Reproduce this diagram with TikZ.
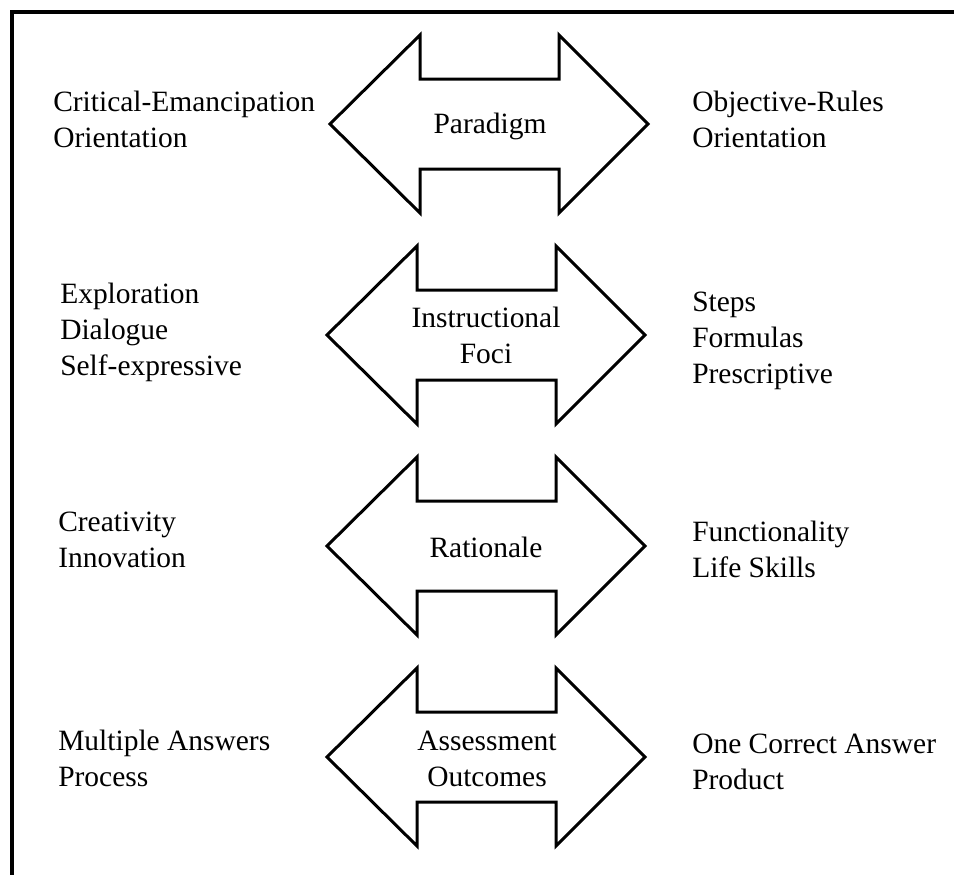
\documentclass[tikz,border=0pt]{standalone}
\usepackage{fontspec}
\setmainfont{Liberation Serif}
\begin{document}
\begin{tikzpicture}[x=0.75pt,y=-0.75pt,
  txt/.style={inner sep=0pt, align=left, anchor=base west, font=\fontsize{22.1}{27}\selectfont},
  ctxt/.style={inner sep=0pt, align=center, anchor=base, font=\fontsize{22.1}{27}\selectfont},
  dbl/.style={draw, line width=2.25pt, line join=miter},
  frameline/.style={line width=2.6pt},
  dblarrow/.pic={\draw[dbl] (-159,0) -- (-69,-89) -- (-69,-45) -- (70,-45) -- (70,-89) -- (159,0) -- (70,89) -- (70,45) -- (-69,45) -- (-69,89) -- cycle;}]
\useasboundingbox (0,0) rectangle (954,875);
\draw[frameline] (12,875) -- (12,12) -- (954,12);

\pic at (489,124) {dblarrow};
\pic at (486,335) {dblarrow};
\pic at (486,546) {dblarrow};
\pic at (486,757) {dblarrow};

% base anchor of a multi-line node = baseline of its last line
\node[ctxt] (c1) at (490,133) {Paradigm};
\node[ctxt] (c2) at (486,363) {Instructional\\Foci};
\node[ctxt] (c3) at (486,557) {Rationale};
\node[ctxt] (c4) at (487,786) {Assessment\\Outcomes};

\node[txt] (l1) at (53,147) {Critical-Emancipation\\Orientation};
\node[txt] (r1) at (692,147) {Objective-Rules\\Orientation};
\node[txt] (l2) at (60,375) {Exploration\\Dialogue\\Self-expressive};
\node[txt] (r2) at (692,383) {Steps\\Formulas\\Prescriptive};
\node[txt] (l3) at (58,567) {Creativity\\Innovation};
\node[txt] (r3) at (692,577) {Functionality\\Life Skills};
\node[txt] (l4) at (58,786) {Multiple Answers\\Process};
\node[txt] (r4) at (692,789) {One Correct Answer\\Product};
\end{tikzpicture}
\end{document}
